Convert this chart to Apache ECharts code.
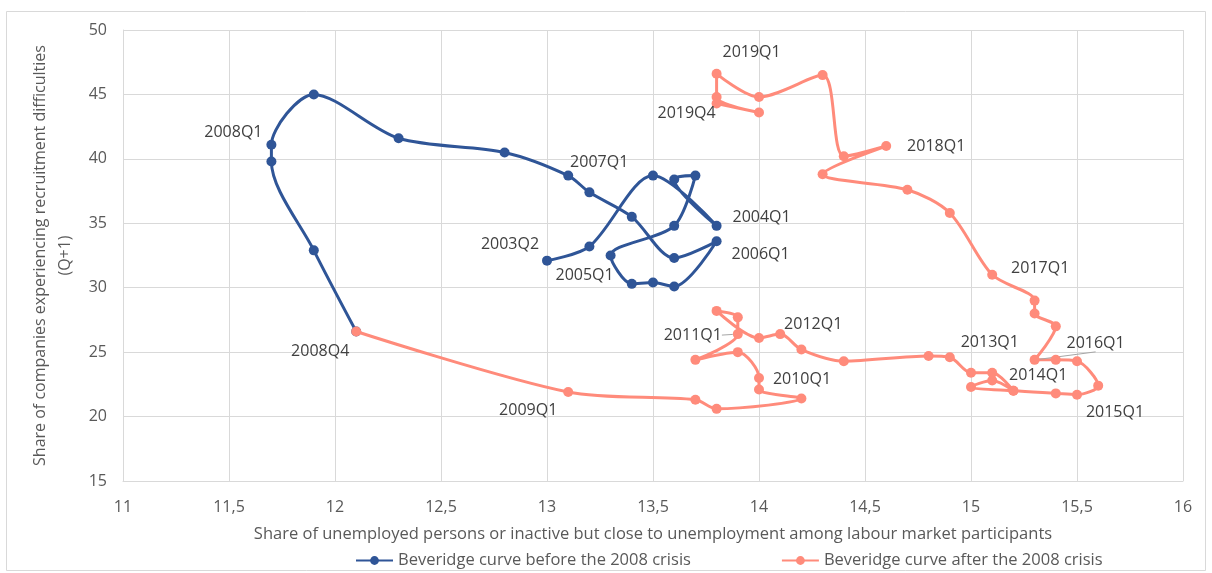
<!DOCTYPE html>
<html><head><meta charset="utf-8">
<script src="https://cdn.jsdelivr.net/npm/echarts@6/dist/echarts.min.js"></script>
<style>html,body{margin:0;padding:0;background:#fff}#c{width:1212px;height:573px}</style>
</head><body><div id="c"></div><script>
// ---- data ----
const xTickLabels = ['11','11,5','12','12,5','13','13,5','14','14,5','15','15,5','16'];
const yTickLabels = ['15','20','25','30','35','40','45','50'];

const beforeX = [13.0,13.2,13.5,13.8,13.6,13.7,13.6,13.3,13.4,13.5,13.6,13.8,13.6,13.4,13.2,13.1,12.8,12.3,11.9,11.7,11.7,11.9,12.1];
const beforeY = [32.1,33.2,38.7,34.8,38.4,38.7,34.8,32.5,30.3,30.4,30.1,33.6,32.3,35.5,37.4,38.7,40.5,41.6,45.0,41.1,39.8,32.9,26.6];
const beforeLabels = ['2003Q2','','','2004Q1','','','','2005Q1','','','','2006Q1','','','','2007Q1','','','','2008Q1','','',''];

const afterX = [12.1,13.1,13.7,13.8,14.2,14.0,14.0,13.9,13.7,13.9,13.9,13.8,14.0,14.1,14.2,14.4,14.8,14.9,15.0,15.1,15.2,15.1,15.0,15.2,15.4,15.5,15.6,15.5,15.4,15.3,15.4,15.3,15.3,15.1,14.9,14.7,14.3,14.6,14.4,14.3,14.0,13.8,13.8,14.0,13.8];
const afterY = [26.6,21.9,21.3,20.6,21.4,22.1,23.0,25.0,24.4,26.4,27.7,28.2,26.1,26.4,25.2,24.3,24.7,24.6,23.4,23.4,22.0,22.8,22.3,22.0,21.8,21.7,22.4,24.3,24.4,24.4,27.0,28.0,29.0,31.0,35.8,37.6,38.8,41.0,40.2,46.5,44.8,46.6,44.8,43.6,44.3];
const afterLabels = ['2008Q4','2009Q1','','','','2010Q1','','','','2011Q1','','','','2012Q1','','','','2013Q1','','','','2014Q1','','','','2015Q1','','','','2016Q1','','','','2017Q1','','','','2018Q1','','','','2019Q1','','','2019Q4'];

const seriesNames = ['Beveridge curve before the 2008 crisis','Beveridge curve after the 2008 crisis'];
const xTitle = 'Share of unemployed persons or inactive but close to unemployment among labour market participants';
const yTitle = 'Share of companies experiencing recruitment difficulties\n(Q+1)';

// ---- styles (label placement offsets in px) ----
const labelOffsets = {
  '2003Q2':[-37,-16],'2004Q1':[45,-8],'2005Q1':[-26,20],'2006Q1':[44,13],'2007Q1':[31,-13],'2008Q1':[-38,-12],
  '2008Q4':[-36,20],'2009Q1':[-40,18],'2010Q1':[43,-10],'2011Q1':[-45,1],'2012Q1':[33,-10],'2013Q1':[40,-15],
  '2014Q1':[46,-5],'2015Q1':[38,18],'2016Q1':[61,-16],'2017Q1':[48,-6],'2018Q1':[50,0],'2019Q1':[35,-21],'2019Q4':[-30,10]
};
const guided = {'2011Q1':true,'2016Q1':true};
const FONT = 'Open Sans';
const BLUE = '#2F5597', ORANGE = '#FF8B7B';

function build(xs, ys, labels){
  return xs.map((x,i)=>{
    const item = {value:[x, ys[i]]};
    const t = labels[i];
    if (t){
      item.label = {show:true, formatter:t, position:'inside', offset:labelOffsets[t],
        color:'#404040', fontSize:16, fontFamily:FONT};
      if (guided[t]) item.labelLine = {show:true, lineStyle:{color:'#a6a6a6', width:1}};
    }
    return item;
  });
}

const chart = echarts.init(document.getElementById('c'), null, {renderer:'canvas'});
chart.setOption({
  animation:false,
  backgroundColor:'#fff',
  textStyle:{fontFamily:FONT},
  graphic:[{type:'rect', shape:{x:6.5,y:11.5,width:1199,height:559}, style:{fill:'none', stroke:'#d9d9d9', lineWidth:1}, silent:true, z:-1}],
  grid:{left:123, right:29, top:30, bottom:92},
  legend:{
    left:355, top:552, padding:0, itemGap:90, itemWidth:37, itemHeight:11,
    textStyle:{fontSize:16.5, color:'#595959', fontFamily:FONT},
    data:seriesNames
  },
  xAxis:{
    type:'value', min:11, max:16, interval:0.5,
    name:xTitle, nameLocation:'middle', nameGap:45,
    nameTextStyle:{fontSize:16.5, color:'#595959', fontFamily:FONT},
    axisLine:{show:true, lineStyle:{color:'#d9d9d9'}}, axisTick:{show:false},
    splitLine:{show:true, lineStyle:{color:'#d9d9d9', width:1}},
    axisLabel:{margin:18, fontSize:16, color:'#595959', fontFamily:FONT,
      formatter:v=>xTickLabels[Math.round((v-11)/0.5)]}
  },
  yAxis:{
    type:'value', min:15, max:50, interval:5,
    name:yTitle, nameLocation:'middle', nameGap:41,
    nameTextStyle:{fontSize:16, lineHeight:25, color:'#595959', fontFamily:FONT},
    axisLine:{show:true, lineStyle:{color:'#d9d9d9'}}, axisTick:{show:false},
    splitLine:{show:true, lineStyle:{color:'#d9d9d9', width:1}},
    axisLabel:{margin:16, fontSize:16, color:'#595959', fontFamily:FONT,
      formatter:v=>yTickLabels[Math.round((v-15)/5)]}
  },
  series:[
    {name:seriesNames[0], type:'line', data:build(beforeX, beforeY, beforeLabels),
      smooth:0.3, symbol:'circle', symbolSize:10, color:BLUE,
      lineStyle:{width:3, color:BLUE}, itemStyle:{color:BLUE}, label:{show:false}, z:2},
    {name:seriesNames[1], type:'line', data:build(afterX, afterY, afterLabels),
      smooth:0.3, symbol:'circle', symbolSize:10, color:ORANGE,
      lineStyle:{width:3, color:ORANGE}, itemStyle:{color:ORANGE}, label:{show:false}, z:3}
  ]
});
</script></body></html>
